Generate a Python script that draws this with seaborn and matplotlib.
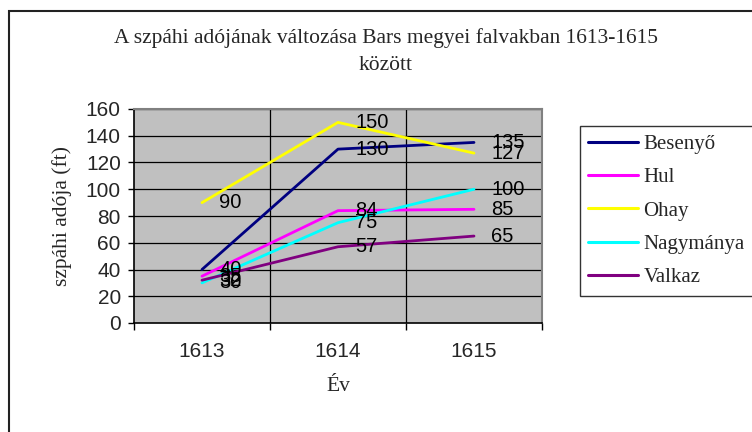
import matplotlib
matplotlib.use("Agg")
import matplotlib.pyplot as plt
import matplotlib.patches as mpatches
import seaborn as sns
import pandas as pd

years = ["1613", "1614", "1615"]
series_names = ["Besenyő", "Hul", "Ohay", "Nagymánya", "Valkaz"]
besenyo = [40, 130, 135]
hul = [35, 84, 85]
ohay = [90, 150, 127]
nagymanya = [30, 75, 100]
valkaz = [32, 57, 65]
values = [besenyo, hul, ohay, nagymanya, valkaz]
colors = ["#000080", "#FF00FF", "#FFFF00", "#00FFFF", "#800080"]

rows = []
for name, vals in zip(series_names, values):
    for i, v in enumerate(vals):
        rows.append({"pos": i, "year": years[i], "series": name, "value": v})
df = pd.DataFrame(rows)

sns.set_style("white")
plt.rcParams["font.family"] = ["Liberation Sans", "DejaVu Sans"]

fig = plt.figure(figsize=(7.52, 4.32), dpi=100)
ax = fig.add_axes([134/752, 1-323/432, 408/752, 214/432])
ax.set_facecolor("#C0C0C0")

sns.lineplot(data=df, x="pos", y="value", hue="series", hue_order=series_names,
             palette=colors, linewidth=2.0, ax=ax, legend=False, zorder=3)

# data labels
for name, vals in zip(series_names, values):
    for i, v in enumerate(vals):
        ax.annotate(str(v), (i, v), xytext=(12.5, 0), textcoords="offset points",
                    ha="left", va="center", fontsize=14.5, color="black", zorder=4)

ax.set_xlim(-0.5, 2.5)
ax.set_ylim(0, 160)
ax.set_yticks(range(0, 161, 20))
ax.set_xticks([-0.5, 0.5, 1.5, 2.5])
ax.set_xticklabels([])
ax.set_xticks([0, 1, 2], minor=True)
ax.set_xticklabels(years, minor=True)
ax.tick_params(axis="x", which="major", direction="out", length=5, width=1, color="black", bottom=True)
ax.tick_params(axis="x", which="minor", length=0, pad=14, labelsize=15)
ax.tick_params(axis="y", direction="out", length=4, width=1, color="black", pad=5.5, labelsize=15, left=True)

ax.grid(False)
for y in range(20, 161, 20):
    ax.axhline(y, color="black", linewidth=0.9, zorder=1)
for x in [0.5, 1.5]:
    ax.axvline(x, color="black", linewidth=0.9, zorder=1)

for s in ["top", "right"]:
    ax.spines[s].set_color("#808080")
    ax.spines[s].set_linewidth(1.5)
for s in ["left", "bottom"]:
    ax.spines[s].set_color("black")
    ax.spines[s].set_linewidth(1.2)

ax.set_ylabel("szpáhi adója (ft)", family=["Liberation Serif"], fontsize=15.5)
ax.yaxis.set_label_coords((72-134)/408, 0.5)
ax.set_xlabel("Év", family=["Liberation Serif"], fontsize=15.5)
ax.xaxis.set_label_coords(0.5, (323-377)/214)

fig.text(386/752, 1-38/432, "A szpáhi adójának változása Bars megyei falvakban 1613-1615",
         ha="center", va="center", family=["Liberation Serif"], fontsize=15.5)
fig.text(386/752, 1-66/432, "között",
         ha="center", va="center", family=["Liberation Serif"], fontsize=15.5)

handles = [plt.Line2D([], [], color=c, linewidth=2.2) for c in colors]
leg = fig.legend(handles, series_names, loc="upper left",
                 bbox_to_anchor=(580/752, 1-126/432), frameon=True, fancybox=False,
                 edgecolor="black", prop={"family": "Liberation Serif", "size": 15},
                 handlelength=2.4, handletextpad=0.25, labelspacing=0.66,
                 borderpad=0.4, borderaxespad=0)
leg.get_frame().set_linewidth(1.0)

border = mpatches.Rectangle((9/752, -0.1), 1.2, 0.1 + 1-11/432, transform=fig.transFigure,
                            fill=False, edgecolor="#222222", linewidth=1.5, clip_on=False)
fig.patches.append(border)

fig.savefig("out.png", dpi=100)
